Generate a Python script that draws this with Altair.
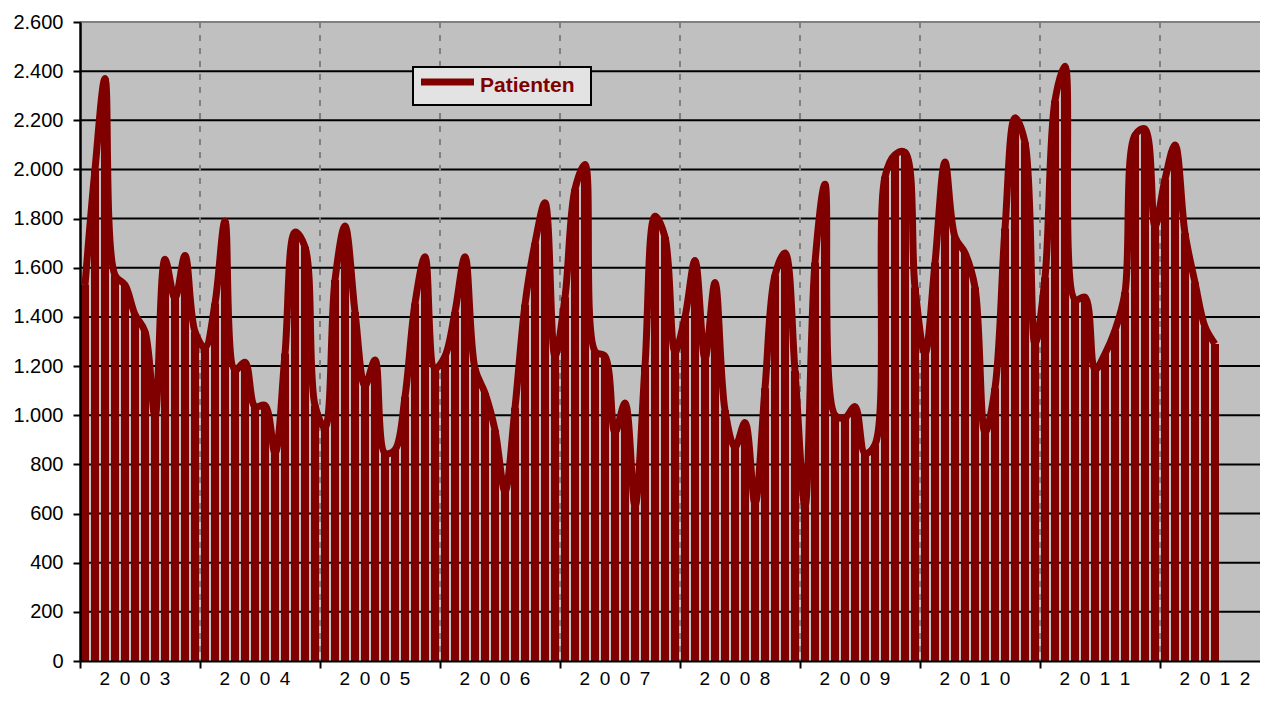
import altair as alt
import pandas as pd

RED = "#800000"

years = ["2003", "2004", "2005", "2006", "2007", "2008", "2009", "2010", "2011", "2012"]

p2003 = [1530, 2000, 2370, 1570, 1530, 1410, 1340, 995, 1635, 1475, 1650, 1340]
p2004 = [1275, 1455, 1790, 1185, 1215, 1035, 1040, 845, 1250, 1745, 1685, 1040]
p2005 = [950, 1550, 1770, 1420, 1120, 1225, 845, 860, 1075, 1455, 1645, 1190]
p2006 = [1240, 1420, 1645, 1190, 1090, 940, 690, 1030, 1450, 1700, 1865, 1240]
p2007 = [1480, 1920, 2020, 1260, 1240, 930, 1050, 630, 1200, 1810, 1725, 1260]
p2008 = [1400, 1630, 1230, 1540, 1020, 870, 970, 640, 1110, 1570, 1660, 1180]
p2009 = [630, 1620, 1940, 1000, 990, 1035, 845, 880, 1970, 2060, 2070, 1520]
p2010 = [1250, 1620, 2030, 1725, 1660, 1520, 930, 1110, 1760, 2210, 2110, 1290]
p2011 = [1560, 2280, 2420, 1470, 1480, 1185, 1250, 1345, 1500, 2140, 2165, 1770]
p2012 = [1960, 2100, 1740, 1540, 1360, 1290]

values = p2003 + p2004 + p2005 + p2006 + p2007 + p2008 + p2009 + p2010 + p2011 + p2012
months = list(range(len(values)))

y_ticks = list(range(0, 2601, 200))
h_grid = list(range(200, 2401, 200))
top_border = [2600]
year_bounds = [12 * i for i in range(len(years))]
v_grid = year_bounds[1:]
year_centers = [12 * i + 6 for i in range(len(years))]
year_labels = ["\u2002".join(list(y)) for y in years]

df = pd.DataFrame({"t": months, "patienten": values})
grid_df = pd.DataFrame({"g": h_grid})
ytick_df = pd.DataFrame({"g": y_ticks})
top_df = pd.DataFrame({"g": top_border})
vgrid_df = pd.DataFrame({"b": v_grid})
xtick_df = pd.DataFrame({"b": year_bounds})
label_df = pd.DataFrame({"c": year_centers, "label": year_labels})
legend_df = pd.DataFrame({"label": ["Patienten"]})

W, H = 1180, 639
x_scale = alt.Scale(domain=[0, 118.0], nice=False, zero=False, padding=0)
y_scale = alt.Scale(domain=[0, 2600], nice=False, zero=True, padding=0)
FONT = "Liberation Sans"

# y axis lives on an invisible tick layer
yaxis_layer = alt.Chart(ytick_df).mark_rule(opacity=0).encode(
    y=alt.Y(
        "g:Q",
        scale=y_scale,
        axis=alt.Axis(
            values=y_ticks,
            labelExpr="replace(format(datum.value, ','), ',', '.')",
            labelFont=FONT, labelFontSize=20, labelColor="black", labelPadding=10,
            tickSize=7, tickColor="black", tickWidth=2, domainColor="black", domainWidth=2.5,
            grid=False, title=None, zindex=1,
        ),
    )
)
xaxis_layer = alt.Chart(xtick_df).mark_rule(opacity=0).encode(
    x=alt.X(
        "b:Q",
        scale=x_scale,
        axis=alt.Axis(
            values=year_bounds, labels=False, ticks=True, tickSize=7, tickColor="black",
            tickWidth=2, domainColor="black", domainWidth=2, grid=False, title=None, zindex=1,
        ),
    )
)

hgrid = alt.Chart(grid_df).mark_rule(color="black", strokeWidth=2).encode(
    y=alt.Y("g:Q", scale=y_scale)
)
topb = alt.Chart(top_df).mark_rule(color="#808080", strokeWidth=2).encode(
    y=alt.Y("g:Q", scale=y_scale)
)
vgrid = alt.Chart(vgrid_df).mark_rule(color="#808080", strokeWidth=2, strokeDash=[6, 7]).encode(
    x=alt.X("b:Q", scale=x_scale)
)

bars = alt.Chart(df).transform_calculate(xc="datum.t + 0.5").mark_bar(
    color=RED, width=8
).encode(
    x=alt.X("xc:Q", scale=x_scale),
    y=alt.Y("patienten:Q", scale=y_scale, stack=None),
)

line = alt.Chart(df).transform_calculate(xc="datum.t + 0.5").mark_line(
    color=RED, strokeWidth=7, interpolate="catmull-rom", strokeJoin="round", strokeCap="butt"
).encode(
    x=alt.X("xc:Q", scale=x_scale),
    y=alt.Y("patienten:Q", scale=y_scale),
)

leg_box = alt.Chart(legend_df).mark_rect(fill="#E3E3E3", stroke="black", strokeWidth=2).encode(
    x=alt.value(333), x2=alt.value(511), y=alt.value(45), y2=alt.value(83)
)
leg_line = alt.Chart(legend_df).mark_rule(color=RED, strokeWidth=7).encode(
    x=alt.value(341), x2=alt.value(394), y=alt.value(60)
)
leg_text = alt.Chart(legend_df).mark_text(
    align="left", baseline="alphabetic", font=FONT, fontSize=21, fontWeight="bold", color=RED
).encode(x=alt.value(400), y=alt.value(70), text="label:N")

ylabels = alt.Chart(label_df).mark_text(
    align="center", baseline="alphabetic", font=FONT, fontSize=19, color="black", dx=-5
).encode(
    x=alt.X("c:Q", scale=x_scale),
    y=alt.value(H + 24),
    text="label:N",
)

chart = alt.layer(
    yaxis_layer, xaxis_layer, hgrid, vgrid, topb, bars, line, leg_box, leg_line, leg_text, ylabels
).properties(
    width=W,
    height=H,
    padding={"left": 72, "top": 14, "right": 0, "bottom": 28},
    autosize=alt.AutoSizeParams(type="none"),
    background="white",
).configure_view(fill="#C0C0C0", stroke=None)

chart.save("out.html", embed_options={"renderer": "svg", "actions": False})
